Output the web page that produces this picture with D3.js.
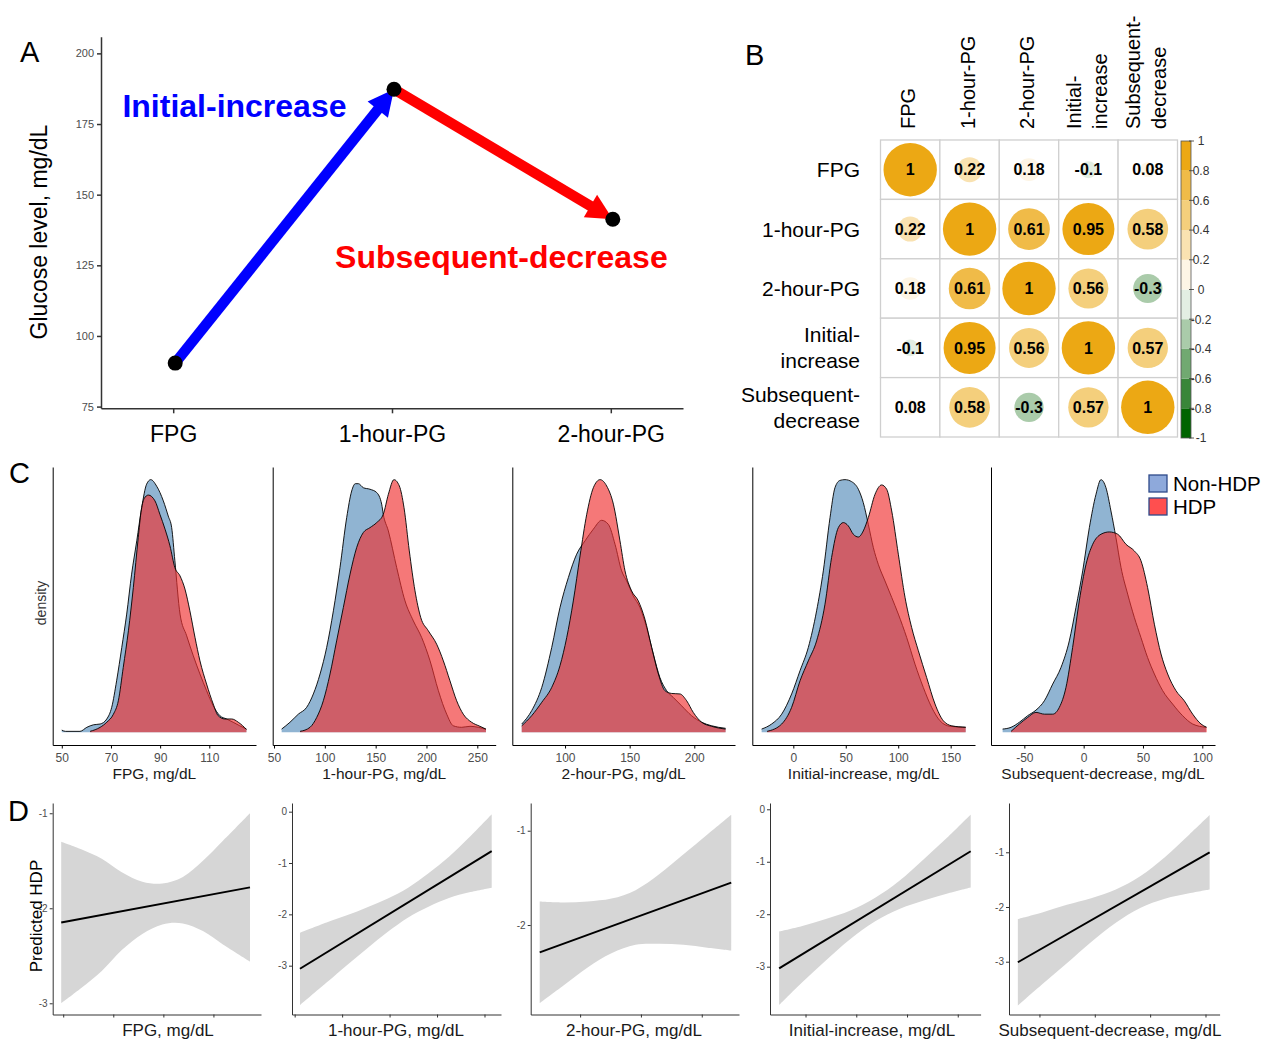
<!DOCTYPE html>
<html>
<head>
<meta charset="utf-8">
<script src="https://cdn.jsdelivr.net/npm/d3@7"></script>
<style>
  body { margin: 0; background: #fff; }
  svg { display: block; }
  text { font-family: "Liberation Sans", Arial, sans-serif; }
</style>
</head>
<body>
<svg id="fig" width="1271" height="1050"></svg>
<script>
// ---- A: mean glucose curve
const timePoints = ["FPG", "1-hour-PG", "2-hour-PG"];
const meanGlucose = [90.4, 187.3, 141.3];
const glucoseTicks = [75, 100, 125, 150, 175, 200];

// ---- B: correlation matrix
const corrVars = ["FPG", "1-hour-PG", "2-hour-PG", "Initial-\nincrease", "Subsequent-\ndecrease"];
const corrMatrix = [
  [1, 0.22, 0.18, -0.1, 0.08],
  [0.22, 1, 0.61, 0.95, 0.58],
  [0.18, 0.61, 1, 0.56, -0.3],
  [-0.1, 0.95, 0.56, 1, 0.57],
  [0.08, 0.58, -0.3, 0.57, 1]
];
const corrLegendTicks = [1, 0.8, 0.6, 0.4, 0.2, 0, -0.2, -0.4, -0.6, -0.8, -1];

// ---- C: scaled densities, [value, density]
const fpgNonHDP = [[50.0,0.009],[51.5,0.004],[57.4,0.004],[60.2,0.020],[62.9,0.030],[65.6,0.033],[68.3,0.053],[70.3,0.099],[72.3,0.204],[74.4,0.336],[76.4,0.468],[78.4,0.626],[80.5,0.758],[82.5,0.889],[84.5,0.982],[86.2,1.0],[88.6,0.974],[91.3,0.916],[93.3,0.856],[94.7,0.810],[96.0,0.679],[98.1,0.468],[100.8,0.382],[103.5,0.303],[106.2,0.231],[108.9,0.165],[111.6,0.105],[114.3,0.066],[117.0,0.053],[119.7,0.040],[122.4,0.026],[125.1,0.013]];
const fpgHDP = [[61.5,0.004],[65.6,0.020],[68.3,0.040],[71.0,0.072],[73.0,0.125],[75.0,0.257],[77.1,0.402],[79.1,0.573],[81.1,0.771],[82.2,0.870],[83.5,0.925],[85.2,0.939],[87.9,0.916],[89.9,0.863],[92.0,0.804],[94.0,0.738],[96.0,0.652],[98.1,0.619],[100.1,0.567],[102.1,0.481],[104.2,0.375],[106.2,0.283],[108.9,0.191],[111.6,0.112],[113.6,0.066],[116.3,0.053],[119.1,0.053],[121.8,0.040],[125.1,0.012]];
const oneHourNonHDP = [[57.5,0.013],[65.7,0.040],[73.9,0.072],[82.1,0.099],[88.7,0.152],[95.3,0.231],[101.8,0.336],[108.4,0.481],[114.9,0.652],[121.5,0.850],[126.4,0.955],[130.0,0.984],[133.0,0.984],[137.9,0.968],[144.4,0.962],[151.0,0.949],[155.9,0.903],[157.5,0.863],[162.5,0.797],[170.7,0.652],[178.9,0.520],[187.1,0.441],[195.3,0.375],[203.5,0.283],[211.7,0.165],[219.9,0.072],[226.4,0.026],[234.6,0.020],[242.8,0.024],[251.0,0.020],[258.5,0.012]];
const oneHourHDP = [[75.6,0.004],[85.4,0.020],[92.0,0.059],[98.5,0.125],[105.1,0.231],[111.6,0.362],[118.2,0.494],[124.8,0.626],[131.3,0.731],[137.9,0.791],[144.4,0.810],[151.0,0.830],[157.5,0.863],[162.5,0.942],[168.0,1.0],[173.3,0.975],[177.9,0.889],[183.1,0.718],[188.7,0.560],[194.3,0.455],[201.8,0.402],[210.0,0.349],[216.6,0.283],[223.1,0.204],[229.7,0.125],[236.2,0.072],[244.4,0.040],[252.6,0.024],[258.5,0.013]];
const twoHourNonHDP = [[66.5,0.033],[74.2,0.086],[82.0,0.178],[89.7,0.336],[96.1,0.494],[102.6,0.613],[109.0,0.705],[115.5,0.758],[121.9,0.804],[128.3,0.839],[133.5,0.823],[138.7,0.744],[143.8,0.639],[147.7,0.599],[152.8,0.540],[158.0,0.494],[163.1,0.415],[168.3,0.310],[173.4,0.217],[178.6,0.165],[183.8,0.138],[190.2,0.105],[197.9,0.066],[205.7,0.040],[213.4,0.026],[224.2,0.016]];
const twoHourHDP = [[66.5,0.026],[74.2,0.066],[82.0,0.119],[89.7,0.178],[96.1,0.264],[101.3,0.375],[106.4,0.520],[111.6,0.698],[116.8,0.863],[121.9,0.968],[127.1,1.0],[132.2,0.975],[137.4,0.903],[142.5,0.758],[146.4,0.639],[151.5,0.560],[156.7,0.520],[161.8,0.448],[167.0,0.336],[172.2,0.231],[177.3,0.165],[182.5,0.154],[188.9,0.152],[194.1,0.125],[199.2,0.079],[205.7,0.040],[213.4,0.024],[224.2,0.013]];
const increaseNonHDP = [[-30.2,0.013],[-20.7,0.033],[-11.1,0.072],[-1.6,0.152],[6.4,0.244],[14.3,0.336],[22.2,0.481],[28.6,0.639],[35.0,0.850],[39.7,0.968],[44.5,0.997],[49.3,1.0],[55.6,0.992],[62.0,0.962],[66.7,0.909],[71.5,0.823],[76.3,0.731],[81.0,0.665],[87.4,0.599],[93.8,0.534],[100.1,0.468],[108.1,0.375],[116.0,0.270],[123.9,0.178],[131.9,0.099],[139.8,0.046],[149.4,0.024],[164.3,0.020]];
const increaseHDP = [[-25.0,0.004],[-11.1,0.033],[-1.6,0.099],[6.4,0.204],[14.3,0.283],[22.2,0.362],[30.2,0.507],[36.5,0.692],[42.9,0.810],[47.7,0.830],[52.4,0.817],[57.2,0.784],[62.0,0.773],[66.7,0.797],[71.5,0.850],[77.9,0.942],[84.2,0.979],[89.0,0.962],[93.8,0.876],[100.1,0.705],[106.5,0.534],[112.8,0.415],[119.2,0.323],[127.1,0.217],[135.1,0.112],[143.0,0.046],[151.0,0.026],[164.3,0.020]];
const decreaseNonHDP = [[-68.3,0.013],[-61.2,0.020],[-54.2,0.040],[-47.2,0.066],[-40.2,0.088],[-33.1,0.125],[-26.1,0.191],[-19.1,0.257],[-12.1,0.362],[-6.5,0.494],[-0.8,0.639],[4.8,0.810],[10.4,0.942],[14.6,1.0],[18.8,0.968],[23.0,0.876],[27.2,0.771],[31.5,0.652],[37.1,0.547],[42.7,0.455],[48.3,0.375],[53.9,0.296],[59.6,0.231],[66.6,0.165],[75.0,0.112],[83.4,0.066],[91.9,0.033],[103.1,0.020]];
const decreaseHDP = [[-61.2,0.004],[-54.2,0.033],[-47.2,0.059],[-40.2,0.079],[-33.1,0.072],[-26.1,0.072],[-20.5,0.099],[-14.9,0.178],[-9.3,0.336],[-3.7,0.520],[2.0,0.665],[7.6,0.744],[14.6,0.784],[21.6,0.793],[28.7,0.784],[35.7,0.744],[42.7,0.718],[48.3,0.679],[53.9,0.573],[59.6,0.428],[65.2,0.310],[70.8,0.231],[77.8,0.165],[84.8,0.125],[91.9,0.072],[98.9,0.033],[103.7,0.020]];
const densityTitles = ["FPG, mg/dL", "1-hour-PG, mg/dL", "2-hour-PG, mg/dL", "Initial-increase, mg/dL", "Subsequent-decrease, mg/dL"];
const densityTicks = [[50, 70, 90, 110], [50, 100, 150, 200, 250], [100, 150, 200], [0, 50, 100, 150], [-50, 0, 50, 100]];
const densityLimits = [[46.3, 129.0], [48.7, 268.1], [59.2, 231.5], [-39.1, 173.2], [-78.1, 110.7]];
const groups = ["Non-HDP", "HDP"];

// ---- D: predicted HDP (log odds) with 95% band
const predX = [
  [69.6, 73.6, 77.7, 81.7, 85.8, 89.8, 93.9, 97.9, 101.9, 107.3],
  [102.8, 116.8, 127.5, 138.3, 149.1, 159.8, 170.5, 181.3, 192.0, 203.8],
  [83.4, 93.3, 103.1, 112.9, 122.8, 132.6, 142.5, 152.3, 162.1],
  [9.6, 18.4, 28.0, 37.7, 47.3, 57.0, 66.6, 76.3, 85.1],
  [-27.8, -19.0, -10.1, -1.3, 7.6, 16.4, 25.3, 34.1, 41.5]
];
const predLow = [
  [-3.00, -2.84, -2.66, -2.44, -2.27, -2.17, -2.16, -2.24, -2.38, -2.56],
  [-3.77, -3.33, -2.99, -2.66, -2.34, -2.06, -1.85, -1.68, -1.57, -1.48],
  [-2.83, -2.64, -2.45, -2.30, -2.21, -2.20, -2.21, -2.24, -2.27],
  [-3.73, -3.31, -2.88, -2.47, -2.14, -1.90, -1.74, -1.60, -1.49],
  [-3.80, -3.41, -3.03, -2.64, -2.29, -2.02, -1.85, -1.75, -1.68]
];
const predHigh = [
  [-1.30, -1.38, -1.48, -1.62, -1.72, -1.74, -1.67, -1.50, -1.29, -1.00],
  [-2.36, -2.16, -2.02, -1.86, -1.69, -1.48, -1.20, -0.88, -0.50, -0.05],
  [-1.75, -1.76, -1.75, -1.72, -1.63, -1.46, -1.25, -1.04, -0.83],
  [-2.33, -2.23, -2.09, -1.93, -1.69, -1.36, -0.95, -0.52, -0.10],
  [-2.22, -2.10, -1.96, -1.84, -1.68, -1.44, -1.09, -0.68, -0.32]
];
const predFit = [[-2.15, -1.78], [-3.06, -0.77], [-2.29, -1.55], [-3.03, -0.80], [-3.01, -1.00]];
const predXTicks = [[70, 80, 90, 100], [100, 125, 150, 175, 200], [100, 125, 150], [20, 40, 60, 80], [-20, 0, 20, 40]];
const predYTicks = [[-3, -2, -1], [-3, -2, -1, 0], [-2, -1], [-3, -2, -1, 0], [-3, -2, -1]];
const predXLimits = [[67.9, 109.5], [98.6, 208.7], [79.7, 165.3], [6.0, 89.0], [-31.0, 45.1]];
const predYLimits = [[-3.118, -0.892], [-3.951, 0.169], [-2.949, -0.706], [-3.911, 0.120], [-3.965, -0.099]];

// layout
const cLeft = [52.7, 272.7, 512.3, 752.3, 991], cRight = [256, 495.7, 735, 975, 1215];
const dLeft = [52.7, 292, 530.7, 770, 1009], dRight = [261, 501, 739, 980.6, 1219.6];
const dTitleX = [168, 396, 634, 872, 1110];
const FONT = '"Liberation Sans", Arial, sans-serif';
const plain = d => String(d);

const svg = d3.select("#fig");
svg.append("rect").attr("width", 1271).attr("height", 1050).attr("fill", "#fff");

function styleAxis(g, color, width, size, textColor) {
  g.attr("font-family", FONT).attr("font-size", size);
  g.select(".domain").attr("stroke", color).attr("stroke-width", width);
  g.selectAll(".tick line").attr("stroke", color).attr("stroke-width", width);
  g.selectAll(".tick text").attr("fill", textColor);
}

// panel letters
[["A", 20, 62], ["B", 745, 65], ["C", 9, 483], ["D", 8, 821]].forEach(([t, x, y]) => {
  svg.append("text").attr("x", x).attr("y", y).attr("font-size", 29).text(t);
});

// ================= A =================
const gA = svg.append("g");
const ax = d3.scalePoint().domain(timePoints).range([101, 683]).padding(0.33);
const ay = d3.scaleLinear().domain([74.4, 205.9]).range([408.3, 36.7]);

const axA = gA.append("g").attr("transform", "translate(0,408.3)")
  .call(d3.axisBottom(ax).tickSize(5).tickSizeOuter(0).tickPadding(12));
styleAxis(axA, "#333", 1.5, 23, "#000");
const ayA = gA.append("g").attr("transform", "translate(101,0)")
  .call(d3.axisLeft(ay).tickValues(glucoseTicks).tickSize(4).tickSizeOuter(0).tickPadding(3));
styleAxis(ayA, "#333", 1.5, 11, "#4D4D4D");

gA.append("text")
  .attr("transform", "translate(47,232) rotate(-90)")
  .attr("text-anchor", "middle").attr("font-size", 23)
  .text("Glucose level, mg/dL");

const pts = timePoints.map((t, i) => [ax(t) + 2, ay(meanGlucose[i])]);
function arrow(p, q, color) {
  const dx = q[0] - p[0], dy = q[1] - p[1], len = Math.hypot(dx, dy);
  const ux = dx / len, uy = dy / len, L = 26, W = 13;
  const bx = q[0] - ux * L, by = q[1] - uy * L;
  gA.append("line")
    .attr("x1", p[0]).attr("y1", p[1]).attr("x2", bx + ux * 3).attr("y2", by + uy * 3)
    .attr("stroke", color).attr("stroke-width", 10.5);
  gA.append("path")
    .attr("d", `M${q[0]},${q[1]}L${bx - uy * W},${by + ux * W}L${bx + uy * W},${by - ux * W}Z`)
    .attr("fill", color);
}
arrow(pts[0], pts[1], "#0000FF");
arrow(pts[1], pts[2], "#FF0000");

gA.selectAll("circle.pt").data(pts).join("circle")
  .attr("cx", d => d[0]).attr("cy", d => d[1]).attr("r", 7.5).attr("fill", "#000");

gA.append("text")
  .attr("x", ax("FPG") + 0.28 * ax.step()).attr("y", ay(177.4))
  .attr("text-anchor", "middle").attr("font-size", 32).attr("font-weight", "bold")
  .attr("fill", "#0000FF").text("Initial-increase");
gA.append("text")
  .attr("x", ax("1-hour-PG") + 0.5 * ax.step()).attr("y", ay(124.0))
  .attr("text-anchor", "middle").attr("font-size", 32).attr("font-weight", "bold")
  .attr("fill", "#FF0000").text("Subsequent-decrease");

// ================= B =================
const gB = svg.append("g");
const bx = d3.scaleBand().domain(d3.range(5)).range([880.5, 1177.5]);
const by = d3.scaleBand().domain(d3.range(5)).range([140, 437]);
const ramp = d3.scaleLinear().domain([0, 0.5, 1]).range(["#006400", "#FFFFFF", "#ECA814"]);
const bandColors = d3.range(10).map(i => ramp(i / 9));
const corrColor = r => bandColors[Math.min(9, Math.floor((r + 1) / 0.2 + 1e-9))];
const rSize = d3.scaleSqrt().domain([0, 1]).range([0, 26.7]);

const cells = [];
corrMatrix.forEach((row, i) => row.forEach((v, j) => cells.push({ i, j, v })));

gB.selectAll("rect.cell").data(cells).join("rect")
  .attr("x", d => bx(d.j)).attr("y", d => by(d.i))
  .attr("width", bx.bandwidth()).attr("height", by.bandwidth())
  .attr("fill", "#fff").attr("stroke", "#CFCFCF").attr("stroke-width", 1.3);
gB.selectAll("circle.corr").data(cells).join("circle")
  .attr("cx", d => bx(d.j) + bx.bandwidth() / 2).attr("cy", d => by(d.i) + by.bandwidth() / 2)
  .attr("r", d => rSize(Math.abs(d.v))).attr("fill", d => corrColor(d.v));
gB.selectAll("text.num").data(cells).join("text")
  .attr("x", d => bx(d.j) + bx.bandwidth() / 2).attr("y", d => by(d.i) + by.bandwidth() / 2)
  .attr("dy", "0.36em").attr("text-anchor", "middle")
  .attr("font-size", 16).attr("font-weight", "bold").text(d => plain(d.v));

corrVars.forEach((v, k) => {
  const lines = v.split("\n");
  lines.forEach((ln, j) => {
    const off = (j - (lines.length - 1) / 2) * 26;
    gB.append("text")
      .attr("transform", `translate(${bx(k) + bx.bandwidth() / 2 - 2 + off},129) rotate(-90)`)
      .attr("dy", "0.36em").attr("font-size", 20).text(ln);
    gB.append("text")
      .attr("x", 860).attr("y", by(k) + by.bandwidth() / 2 + off)
      .attr("dy", "0.36em").attr("text-anchor", "end").attr("font-size", 21).text(ln);
  });
});

const cb = d3.scaleLinear().domain([-1, 1]).range([438, 141]);
gB.selectAll("rect.band").data(bandColors).join("rect")
  .attr("x", 1181).attr("width", 10)
  .attr("y", (c, i) => cb(-1 + 0.2 * (i + 1))).attr("height", (c, i) => cb(-1 + 0.2 * i) - cb(-1 + 0.2 * (i + 1)))
  .attr("fill", c => c);
gB.append("rect").attr("x", 1181).attr("y", cb(1)).attr("width", 10).attr("height", cb(-1) - cb(1))
  .attr("fill", "none").attr("stroke", "#555").attr("stroke-width", 0.8);
gB.selectAll("line.cbt").data(corrLegendTicks).join("line")
  .attr("x1", 1189).attr("x2", 1194).attr("y1", d => cb(d)).attr("y2", d => cb(d))
  .attr("stroke", "#333").attr("stroke-width", 0.8);
gB.selectAll("text.cbl").data(corrLegendTicks).join("text")
  .attr("x", 1201).attr("y", d => cb(d)).attr("dy", "0.36em")
  .attr("text-anchor", "middle").attr("font-size", 12).attr("fill", "#333").text(plain);

// ================= C =================
const densitySets = [
  [fpgNonHDP, fpgHDP], [oneHourNonHDP, oneHourHDP], [twoHourNonHDP, twoHourHDP],
  [increaseNonHDP, increaseHDP], [decreaseNonHDP, decreaseHDP]
];
const groupFill = ["#4682B4", "#F03030"], groupOpacity = [0.6, 0.65];
const cy = d3.scaleLinear().domain([-0.05, 1.05]).range([745, 467]);

densitySets.forEach((sets, i) => {
  const g = svg.append("g");
  const x = d3.scaleLinear().domain(densityLimits[i]).range([cLeft[i], cRight[i]]);
  const area = d3.area().curve(d3.curveMonotoneX).x(p => x(p[0])).y0(cy(0)).y1(p => cy(p[1]));
  const line = d3.line().curve(d3.curveMonotoneX).x(p => x(p[0])).y(p => cy(p[1]));
  sets.forEach((s, k) => {
    g.append("path").datum(s).attr("d", area).attr("fill", groupFill[k]).attr("fill-opacity", groupOpacity[k]);
    g.append("path").datum(s).attr("d", line).attr("fill", "none").attr("stroke", "#000").attr("stroke-width", 0.9);
  });
  const xa = g.append("g").attr("transform", "translate(0,745)")
    .call(d3.axisBottom(x).tickValues(densityTicks[i]).tickFormat(plain).tickSize(3.5).tickSizeOuter(0).tickPadding(5));
  styleAxis(xa, "#000", 1, 12, "#4D4D4D");
  const ya = g.append("g").attr("transform", `translate(${cLeft[i]},0)`)
    .call(d3.axisLeft(cy).tickValues([]).tickSizeOuter(0));
  styleAxis(ya, "#000", 1, 12, "#4D4D4D");
  g.append("text").attr("x", (cLeft[i] + cRight[i]) / 2).attr("y", 779)
    .attr("text-anchor", "middle").attr("font-size", 15.5).attr("fill", "#1a1a1a").text(densityTitles[i]);
});
svg.append("text").attr("transform", "translate(45.5,603) rotate(-90)")
  .attr("text-anchor", "middle").attr("font-size", 14).attr("fill", "#333").text("density");

const legendFill = ["#8EA9DB", "#FF4F4F"];
groups.forEach((gname, k) => {
  svg.append("rect").attr("x", 1149).attr("y", 475 + k * 23).attr("width", 18).attr("height", 17)
    .attr("fill", legendFill[k]).attr("stroke", "#2F4A8A").attr("stroke-width", 1.3);
  svg.append("text").attr("x", 1173).attr("y", 484 + k * 23).attr("dy", "0.36em")
    .attr("font-size", 20.5).text(gname);
});

// ================= D =================
predX.forEach((xs, i) => {
  const g = svg.append("g");
  const x = d3.scaleLinear().domain(predXLimits[i]).range([dLeft[i], dRight[i]]);
  const y = d3.scaleLinear().domain(predYLimits[i]).range([1014.5, 803]);
  const band = xs.map((v, k) => [v, predLow[i][k], predHigh[i][k]]);
  g.append("path").datum(band)
    .attr("d", d3.area().curve(d3.curveCatmullRom.alpha(0.5)).x(p => x(p[0])).y0(p => y(p[1])).y1(p => y(p[2])))
    .attr("fill", "#D6D6D6");
  const fit = [[xs[0], predFit[i][0]], [xs[xs.length - 1], predFit[i][1]]];
  g.append("path").datum(fit)
    .attr("d", d3.line().x(p => x(p[0])).y(p => y(p[1])))
    .attr("stroke", "#000").attr("stroke-width", 2).attr("fill", "none");
  const xa = g.append("g").attr("transform", "translate(0,1014.5)")
    .call(d3.axisBottom(x).tickValues(predXTicks[i]).tickFormat("").tickSize(3).tickSizeOuter(0));
  styleAxis(xa, "#333", 1, 10, "#4D4D4D");
  const ya = g.append("g").attr("transform", `translate(${dLeft[i]},0)`)
    .call(d3.axisLeft(y).tickValues(predYTicks[i]).tickFormat(plain).tickSize(3).tickSizeOuter(0).tickPadding(2));
  styleAxis(ya, "#333", 1, 10, "#4D4D4D");
  g.append("text").attr("x", dTitleX[i]).attr("y", 1036)
    .attr("text-anchor", "middle").attr("font-size", 17).attr("fill", "#1a1a1a").text(densityTitles[i]);
});
svg.append("text").attr("transform", "translate(42,916) rotate(-90)")
  .attr("text-anchor", "middle").attr("font-size", 17).text("Predicted HDP");
</script>
</body>
</html>
